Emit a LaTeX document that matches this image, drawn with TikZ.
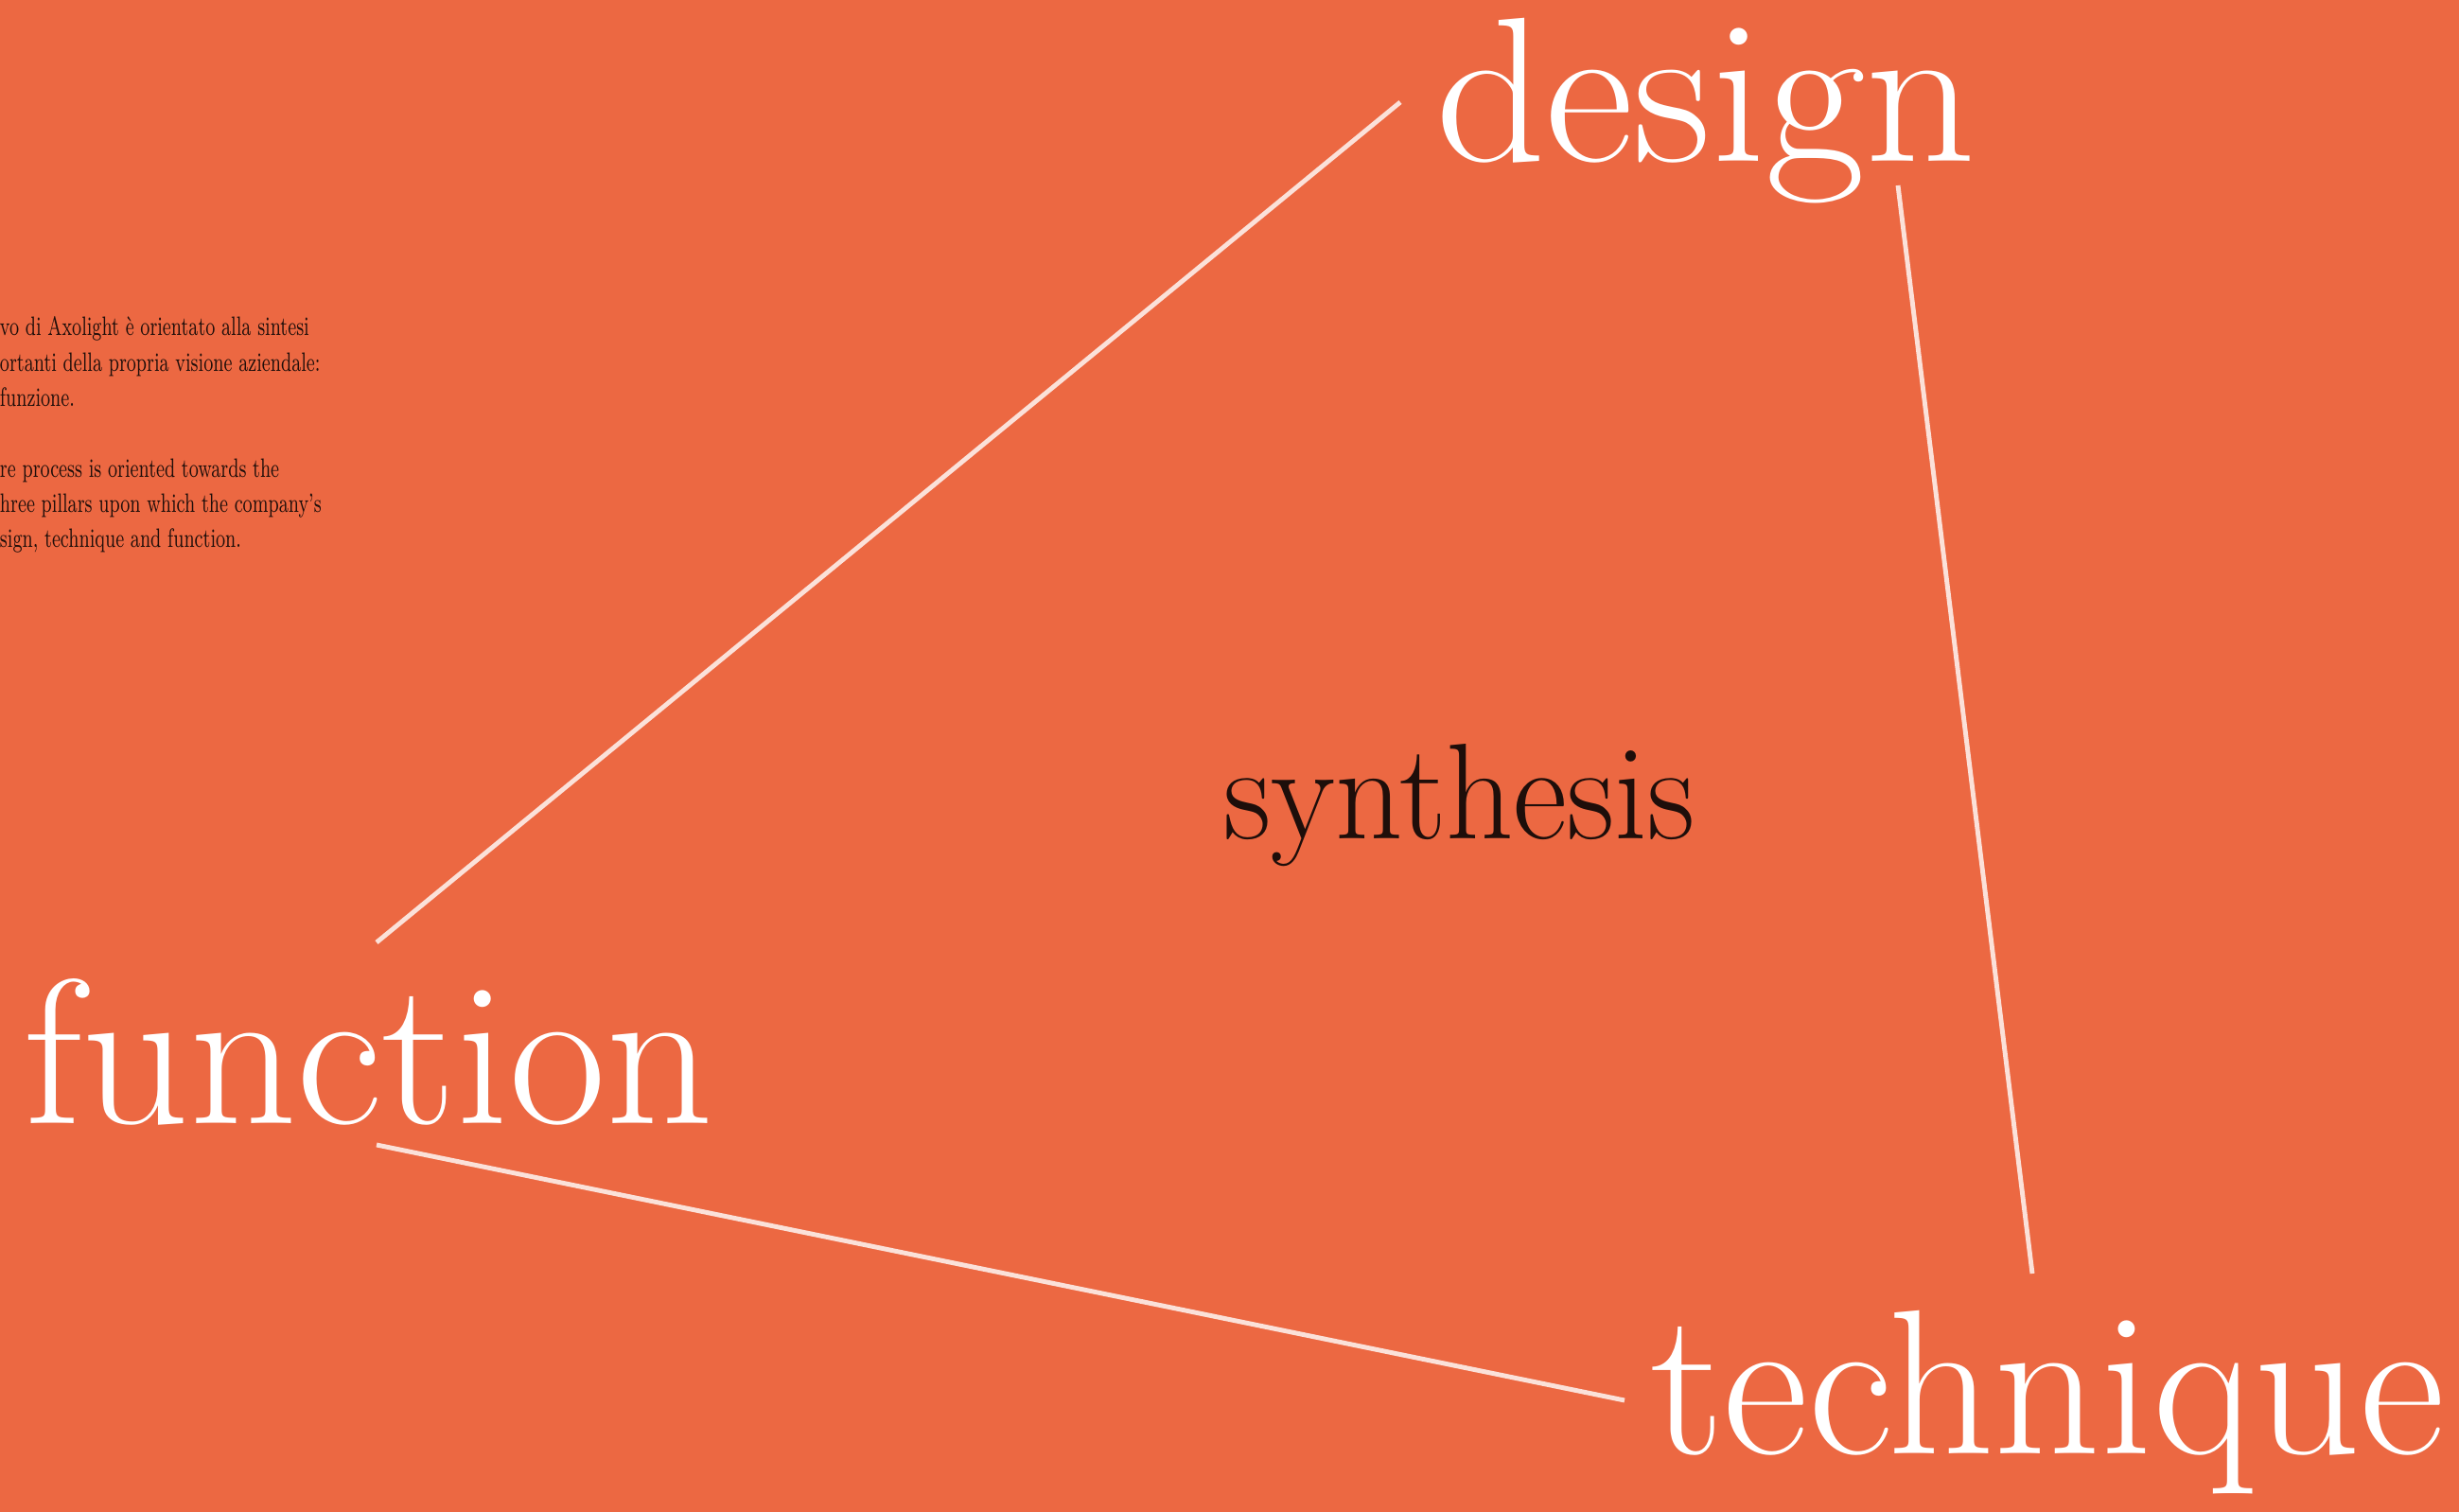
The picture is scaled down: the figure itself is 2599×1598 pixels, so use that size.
\documentclass[tikz,border=0pt]{standalone}
\usepackage{fontspec}
\definecolor{bg}{HTML}{EC6842}
\definecolor{ink}{HTML}{1E0E0A}
\definecolor{rulec}{HTML}{FBE1D9}
\begin{document}
\begin{tikzpicture}[x=0.01cm,y=-0.01cm,
  bigword/.style={anchor=base west, inner sep=0pt, outer sep=0pt, text=white,
    font=\fontsize{62}{62}\selectfont},
  midword/.style={anchor=base west, inner sep=0pt, outer sep=0pt, text=ink,
    font=\fontsize{41}{41}\selectfont},
  para/.style={anchor=base west, inner sep=0pt, outer sep=0pt, text=ink,
    font=\fontsize{8}{9}\selectfont},
  link/.style={draw=rulec, line width=1.4pt}]
\useasboundingbox (0,0) rectangle (2599,1598);
\fill[bg] (0,0) rectangle (2599,1598);
\clip (0,0) rectangle (2599,1598);

\node[bigword] (design) at (1517,171) {\scalebox{1.05}[1]{design}};
\node[bigword] (function) at (25,1188) {\scalebox{1.02}[1]{function}};
\node[bigword] (technique) at (1744,1536) {\scalebox{1.01}[1]{technique}};
\node[midword] (synthesis) at (1293,887) {\scalebox{0.97}[1]{synthesis}};

\node[para] (p1) at (0,355) {\scalebox{0.675}[1]{vo di Axolight è orientato alla sintesi}};
\node[para] (p2) at (0,393) {\scalebox{0.675}[1]{ortanti della propria visione aziendale:}};
\node[para] (p3) at (0,430) {\scalebox{0.675}[1]{funzione.}};
\node[para] (p4) at (0,505) {\scalebox{0.675}[1]{re process is oriented towards the}};
\node[para] (p5) at (0,542) {\scalebox{0.675}[1]{hree pillars upon which the company’s}};
\node[para] (p6) at (0,579) {\scalebox{0.675}[1]{sign, technique and function.}};

\coordinate (dA) at (1480,108);
\coordinate (fA) at (398,996);
\coordinate (dB) at (2006,196);
\coordinate (tB) at (2148,1346);
\coordinate (fC) at (398,1210);
\coordinate (tC) at (1717,1480);
\draw[link] (dA) -- (fA);
\draw[link] (dB) -- (tB);
\draw[link] (fC) -- (tC);
\end{tikzpicture}
\end{document}
